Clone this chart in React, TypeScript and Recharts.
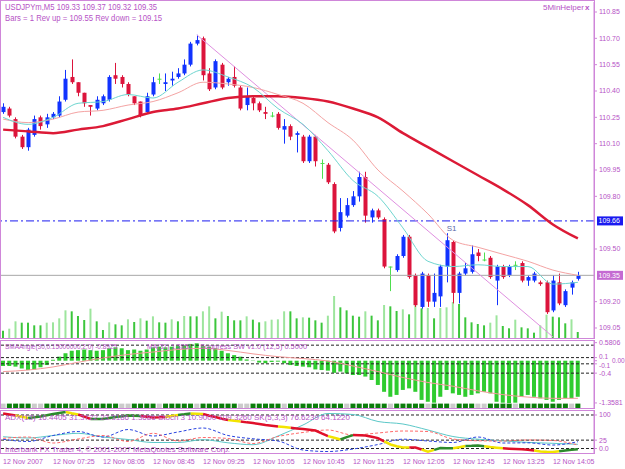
import React from 'react';
import {
  ComposedChart,
  Bar,
  Line,
  Scatter,
  XAxis,
  YAxis,
  ReferenceLine,
  ReferenceDot,
  Cell,
} from 'recharts';

const FONT = '"Liberation Sans", Arial, sans-serif';
const TXT = '#b653c6';
const FRAME = '#cf86d9';
const BULL = '#1133ff';
const BEAR = '#dc143c';
const DOJI = '#4ede4e';
const VOL_UP = '#9de59d';
const VOL_DOWN = '#3cc63c';

// USDJPYm M5, 12 Nov 2007 06:45 .. 14:25 (93 bars)
const OPEN = [
  110.28, 110.30, 110.24, 110.14, 110.08, 110.15, 110.25, 110.21, 110.25, 110.26,
  110.35, 110.48, 110.45, 110.39, 110.32, 110.30, 110.33, 110.35, 110.49, 110.48,
  110.44, 110.37, 110.34, 110.28, 110.38, 110.47, 110.44, 110.46, 110.48, 110.50,
  110.55, 110.67, 110.70, 110.50, 110.42, 110.55, 110.45, 110.48, 110.42, 110.32,
  110.36, 110.33, 110.28, 110.26, 110.27, 110.18, 110.20, 110.15, 110.14, 110.00,
  110.14, 109.99, 109.98, 109.87, 109.62, 109.69, 109.75, 109.80, 109.91, 109.68,
  109.72, 109.67, 109.40, 109.38, 109.46, 109.57, 109.35, 109.17, 109.35, 109.20,
  109.23, 109.40, 109.54, 109.25, 109.36, 109.37, 109.48, 109.44, 109.45, 109.32,
  109.40, 109.35, 109.41, 109.42, 109.32, 109.32, 109.31, 109.31, 109.15, 109.31,
  109.18, 109.28, 109.33,
];
const HIGH = [
  110.33, 110.31, 110.25, 110.15, 110.19, 110.26, 110.26, 110.27, 110.28, 110.37,
  110.52, 110.58, 110.45, 110.39, 110.32, 110.37, 110.38, 110.49, 110.56, 110.49,
  110.45, 110.37, 110.34, 110.39, 110.48, 110.50, 110.50, 110.51, 110.53, 110.58,
  110.68, 110.72, 110.71, 110.53, 110.58, 110.56, 110.48, 110.54, 110.43, 110.42,
  110.37, 110.34, 110.31, 110.28, 110.28, 110.24, 110.21, 110.17, 110.15, 110.15,
  110.15, 110.01, 109.99, 109.88, 109.79, 109.79, 109.83, 109.94, 109.94, 109.73,
  109.73, 109.68, 109.40, 109.47, 109.58, 109.58, 109.36, 109.37, 109.36, 109.36,
  109.41, 109.59, 109.55, 109.37, 109.42, 109.52, 109.50, 109.48, 109.46, 109.41,
  109.41, 109.41, 109.43, 109.43, 109.35, 109.37, 109.32, 109.32, 109.35, 109.36,
  109.27, 109.32, 109.37,
];
const LOW = [
  110.27, 110.25, 110.13, 110.07, 110.06, 110.14, 110.18, 110.19, 110.24, 110.25,
  110.34, 110.44, 110.37, 110.31, 110.26, 110.29, 110.32, 110.34, 110.44, 110.42,
  110.37, 110.32, 110.25, 110.27, 110.37, 110.44, 110.40, 110.43, 110.47, 110.49,
  110.54, 110.66, 110.46, 110.40, 110.41, 110.41, 110.43, 110.42, 110.29, 110.29,
  110.29, 110.28, 110.24, 110.25, 110.18, 110.10, 110.12, 110.05, 109.99, 109.99,
  109.97, 109.90, 109.87, 109.59, 109.60, 109.68, 109.74, 109.77, 109.65, 109.65,
  109.67, 109.39, 109.26, 109.37, 109.45, 109.33, 109.17, 109.16, 109.17, 109.17,
  109.17, 109.31, 109.19, 109.19, 109.35, 109.36, 109.43, 109.43, 109.33, 109.18,
  109.33, 109.34, 109.38, 109.31, 109.29, 109.31, 109.29, 109.13, 109.14, 109.18,
  109.17, 109.24, 109.32,
];
const CLOSE = [
  110.31, 110.26, 110.14, 110.08, 110.18, 110.24, 110.20, 110.25, 110.27, 110.34,
  110.47, 110.45, 110.39, 110.33, 110.31, 110.35, 110.37, 110.48, 110.47, 110.44,
  110.38, 110.33, 110.26, 110.37, 110.45, 110.47, 110.45, 110.47, 110.50, 110.55,
  110.67, 110.69, 110.49, 110.41, 110.57, 110.42, 110.47, 110.43, 110.30, 110.37,
  110.33, 110.29, 110.27, 110.26, 110.19, 110.20, 110.14, 110.16, 110.00, 110.14,
  110.00, 109.99, 109.88, 109.60, 109.71, 109.75, 109.80, 109.91, 109.69, 109.72,
  109.68, 109.40, 109.40, 109.46, 109.57, 109.34, 109.18, 109.36, 109.20, 109.25,
  109.40, 109.55, 109.25, 109.36, 109.39, 109.47, 109.46, 109.44, 109.34, 109.40,
  109.34, 109.40, 109.41, 109.32, 109.34, 109.36, 109.30, 109.14, 109.32, 109.19,
  109.26, 109.31, 109.35,
];
const VOLUME = [
  22, 28, 50, 46, 46, 38, 38, 46, 47, 59, 83, 80, 66, 54, 88, 50, 24, 47, 41, 38,
  56, 48, 59, 52, 65, 47, 46, 56, 50, 66, 65, 65, 80, 95, 59, 79, 66, 53, 53, 65,
  55, 47, 50, 55, 56, 80, 80, 59, 62, 61, 53, 46, 67, 126, 92, 83, 67, 64, 80, 67,
  53, 99, 95, 81, 86, 71, 98, 89, 90, 59, 90, 92, 108, 102, 62, 47, 42, 38, 46, 68,
  36, 29, 55, 32, 29, 16, 38, 70, 64, 62, 44, 56, 18,
];

// moving averages, read at every 4th bar
const MA_FAST = [
  110.25, 110.21, 110.25, 110.33, 110.34, 110.38, 110.36, 110.45, 110.52, 110.48, 110.42, 110.30,
  110.21, 110.06, 109.89, 109.80, 109.62, 109.43, 109.40, 109.41, 109.40, 109.40, 109.30, 109.31,
];
const MA_MID = [
  110.24, 110.22, 110.24, 110.28, 110.29, 110.32, 110.34, 110.39, 110.45, 110.44, 110.42, 110.38,
  110.33, 110.22, 110.12, 109.95, 109.83, 109.70, 109.55, 109.51, 109.47, 109.43, 109.38, 109.35,
];
const MA_SLOW = [
  110.18, 110.17, 110.16, 110.18, 110.20, 110.24, 110.28, 110.30, 110.33, 110.36, 110.37, 110.37,
  110.36, 110.34, 110.30, 110.25, 110.16, 110.08, 110.00, 109.92, 109.84, 109.75, 109.64, 109.56,
];

// 109.65 and 109.35 sit under the price tags
const PRICE_TICKS = [109.05, 109.2, 109.5, 109.8, 109.95, 110.1, 110.25, 110.4, 110.55, 110.7, 110.85];

// SMAAngle window
const HIST = [
  -0.17, -0.17, -0.19, -0.25, -0.30, -0.28, -0.21, -0.14, 0.03, 0.13,
  0.24, 0.32, 0.34, 0.36, 0.34, 0.32, 0.34, 0.40, 0.43, 0.40,
  0.34, 0.36, 0.32, 0.36, 0.43, 0.45, 0.43, 0.45, 0.47, 0.50,
  0.54, 0.56, 0.47, 0.45, 0.40, 0.32, 0.24, 0.18, 0.13, 0.04,
  0.01, -0.06, -0.08, -0.04, -0.03, -0.08, -0.14, -0.17, -0.19, -0.21,
  -0.28, -0.30, -0.32, -0.39, -0.35, -0.41, -0.46, -0.46, -0.51, -0.62,
  -0.78, -1.00, -1.16, -1.10, -0.94, -0.89, -1.00, -1.26, -1.32, -1.35,
  -1.16, -0.94, -1.05, -1.10, -1.16, -1.10, -1.05, -1.00, -1.05, -1.32,
  -1.35, -1.36, -1.35, -1.16, -1.10, -1.16, -1.21, -1.26, -1.32, -1.26,
  -1.21, -1.21, -1.16,
];
const SIGNAL = [
  -0.35, -0.30, -0.20, -0.05, 0.09, 0.20, 0.28, 0.36, 0.40, 0.33, 0.22, 0.13,
  0.07, -0.01, -0.17, -0.35, -0.54, -0.70, -0.82, -0.97, -1.09, -1.17, -1.21, -1.21,
];
const SQUARES =
  'xggggxxggggggxgggggxxggggxgggggxggggggxxgggggxgg' +
  'gggggggxggggggxgggggxgggxgggxxggggxggggggggxg';
const SQUARE_ROW = -1.46;
const OSC_TICKS = [0.5806, 0.1, 0, -0.1, -0.4, -1.3581];
const OSC_LABELS = ['0.5806', '0.1', '0.00', '-0.1', '-0.4', '-1.3581'];
// small nudges so the crowded labels stay readable: [dx, dy]
const OSC_SHIFT = [[0, 0], [0, -1.5], [13, 0], [0, 1.5], [0, 0], [0, 0]];
const OSC_LEVELS = [0.5, 0.1, -0.1, -0.4];

// ADX window
const ADX_MAIN = [
  104.5, 101.5, 98.5, 94.5, 91, 93, 95.5, 99, 103, 106,
  109, 105, 101.5, 95, 88, 88, 88, 91, 94, 96,
  98.5, 98, 97, 95, 92.5, 93, 94, 97, 100, 102,
  104.5, 104, 103, 98, 94, 89, 85, 83, 80.5, 78,
  76, 73, 70, 68, 65.5, 64, 62, 60, 58, 56,
  53.5, 45, 37, 32, 27, 34, 40, 39.5, 39, 35,
  31, 21, 12, 7, 3, 3, 3, -3, -9.5, -4,
  1.5, 1, 0.5, 4, 7.5, 8, 9, 7, 4.5, 2.5,
  0.5, -0.5, -1.5, -2.5, -3.5, -6, -9, -10, -10.5, -8,
  -6, -4, -2.5,
];
const ADX_COL =
  'rrryyggggg' + 'gyyrrggggg' + 'gggrrrryyg' + 'gyyrrrryyr' + 'rrrrryyrrr' +
  'rrryyggrrr' + 'rryyyyrryy' + 'gggyygggyy' + 'yrrrrryyyy' + 'ggg';
const ADX_CYAN = [
  35.2, 31.3, 38.8, 45.4, 34.3, 26.9, 17.9, 17.9, 26.3, 17.0, 11.3, 37.3,
  70.1, 104.5, 101.5, 80.6, 73.1, 55.2, 35.8, 27.8, 22.7, 18.2, 15.5, 12.5,
];
const ADX_BLUE = [
  27.5, 20.9, 38.8, 50.7, 34.3, 56.7, 37.3, 49.3, 61.2, 38.8, 29.0, 22.4,
  -4.5, -9.0, -1.5, 11.9, 27.8, 22.4, 17.9, 34.3, 16.4, 17.0, 10.4, 20.3,
];
const ADX_RED = [
  30.4, 34.3, 16.4, 28.4, 38.8, 20.9, 45.4, 22.4, 32.8, 29.9, 14.9, 35.8,
  47.8, 55.2, 40.3, 46.3, 52.2, 50.7, 28.4, 23.0, 22.4, 25.4, 23.9, 10.4,
];
const ADX_TICKS = [100, 25, 0];
const ADX_LABELS = ['100', '25', '0.0'];

const TIME_LABELS = [
  '12 Nov 2007', '12 Nov 07:25', '12 Nov 08:05', '12 Nov 08:45', '12 Nov 09:25', '12 Nov 10:05',
  '12 Nov 10:45', '12 Nov 11:25', '12 Nov 12:05', '12 Nov 12:45', '12 Nov 13:25', '12 Nov 14:05',
];

const sparse = (arr: number[], i: number) => (i % 4 === 0 ? arr[i / 4] : null);

const mainData = CLOSE.map((close, i) => ({
  i,
  open: OPEN[i],
  high: HIGH[i],
  low: LOW[i],
  close,
  range: [LOW[i], HIGH[i]],
  vol: VOLUME[i],
  fast: sparse(MA_FAST, i),
  mid: sparse(MA_MID, i),
  slow: sparse(MA_SLOW, i),
}));

const oscData = HIST.map((h, i) => ({
  i,
  hist: h,
  signal: sparse(SIGNAL, i),
  sq: SQUARE_ROW,
  sqOn: SQUARES[i] === 'g',
}));

// each colour only where a segment of that colour touches the bar
const adxPart = (c: string, i: number) =>
  ADX_COL[i] === c || ADX_COL[i + 1] === c ? ADX_MAIN[i] : null;

const adxData = ADX_MAIN.map((v, i) => ({
  i,
  r: adxPart('r', i),
  y: adxPart('y', i),
  g: adxPart('g', i),
  cyan: sparse(ADX_CYAN, i),
  blue: sparse(ADX_BLUE, i),
  red: sparse(ADX_RED, i),
}));

const X_PAD = { left: 0, right: 13 };
const W = 625;
const axisTick = { fontSize: 7, fill: TXT, fontFamily: FONT };

const Candle = (props: any) => {
  const { x, y, width, height, payload } = props;
  const { open, close, high, low } = payload;
  const top = Math.min(y, y + height);
  const bot = Math.max(y, y + height);
  const span = high - low;
  const py = (p: number) => (span === 0 ? top : top + ((high - p) / span) * (bot - top));
  const color = close > open ? BULL : close < open ? BEAR : DOJI;
  const cx = Math.round(x + width / 2) + 0.5;
  const yo = py(open);
  const yc = py(close);
  const bTop = Math.min(yo, yc);
  const bH = Math.max(1, Math.abs(yc - yo));
  return (
    <g>
      <line x1={cx} x2={cx} y1={top} y2={bot} stroke={color} strokeWidth={1} />
      <rect x={cx - 2} y={bTop} width={4} height={bH} fill={color} />
    </g>
  );
};

const PriceTag = (props: any) => {
  const { viewBox, text, bg } = props;
  const left = viewBox.x + viewBox.width + 3;
  return (
    <g>
      <rect x={left} y={viewBox.y - 4.5} width={26} height={9} fill={bg} />
      <text x={left + 1.5} y={viewBox.y + 2.5} fontSize={7} fill="#fff" fontFamily={FONT}>
        {text}
      </text>
    </g>
  );
};

const S1Label = (props: any) => {
  const { viewBox } = props;
  return (
    <text x={viewBox.x + 6} y={viewBox.y - 4} fontSize={8} fill="#5a6aa8" fontFamily={FONT} textAnchor="middle">
      S1
    </text>
  );
};

const Square = (props: any) => (
  <rect
    x={props.cx - 2.5}
    y={props.cy - 2.5}
    width={5}
    height={5}
    fill={props.payload.sqOn ? '#0b7d0b' : '#cbcbcb'}
  />
);

const TimeTick = (props: any) => {
  const { x, y, payload } = props;
  return (
    <text x={x} y={y + 9} fontSize={7} fill={TXT} fontFamily={FONT} textAnchor="start">
      {TIME_LABELS[payload.value / 8]}
    </text>
  );
};

const OscTick = (props: any) => {
  const { x, y, payload } = props;
  const k = OSC_TICKS.indexOf(payload.value);
  if (k < 0) return null;
  const [dx, dy] = OSC_SHIFT[k];
  return (
    <text x={x + dx} y={y + dy + 2.5} fontSize={k >= 1 && k <= 3 ? 6.5 : 7} fill={TXT} fontFamily={FONT}>
      {OSC_LABELS[k]}
    </text>
  );
};

const labelFrom = (ticks: number[], labels: string[]) => (v: number) => {
  const k = ticks.indexOf(v);
  return k >= 0 ? labels[k] : String(v);
};

export default function App() {
  return (
    <div
      style={{
        position: 'absolute',
        left: 0,
        top: 0,
        width: W,
        height: 469,
        background: '#ffffff',
        overflow: 'hidden',
        fontFamily: FONT,
      }}
    >
      {/* volumes behind the candles */}
      <div style={{ position: 'absolute', left: 0, top: 0 }}>
        <ComposedChart width={W} height={340} data={mainData} margin={{ top: 2, right: 31, bottom: 2, left: 0 }}>
          <XAxis dataKey="i" type="category" scale="band" hide padding={X_PAD} />
          <YAxis yAxisId="vol" hide domain={[0, 1008]} />
          <Bar yAxisId="vol" dataKey="vol" barSize={2} isAnimationActive={false}>
            {VOLUME.map((v, i) => (
              <Cell key={i} fill={i > 0 && v > VOLUME[i - 1] ? VOL_UP : VOL_DOWN} />
            ))}
          </Bar>
        </ComposedChart>
      </div>

      {/* price window */}
      <div style={{ position: 'absolute', left: 0, top: 0 }}>
        <ComposedChart width={W} height={340} data={mainData} margin={{ top: 2, right: 0, bottom: 2, left: 0 }}>
          <XAxis dataKey="i" type="category" scale="band" hide padding={X_PAD} />
          <YAxis
            orientation="right"
            width={31}
            domain={[108.993, 110.907]}
            ticks={PRICE_TICKS}
            interval={0}
            allowDataOverflow
            tick={axisTick}
            tickSize={3}
            tickMargin={2}
            tickLine={{ stroke: FRAME }}
            axisLine={{ stroke: FRAME }}
            tickFormatter={(v: number) => v.toFixed(2)}
          />
          <ReferenceLine y={109.35} stroke="#a8a8a8" label={<PriceTag text="109.35" bg="#c46ad2" />} />
          <ReferenceLine
            y={109.66}
            stroke="#1a1af0"
            strokeDasharray="8 3 2 3"
            label={<PriceTag text="109.66" bg="#1a1af0" />}
          />
          <Bar dataKey="range" barSize={4} isAnimationActive={false} shape={(p: any) => <Candle {...p} />} />
          <ReferenceLine
            segment={[
              { x: 31, y: 110.72 },
              { x: 88, y: 109.0 },
            ]}
            stroke="#df8fe0"
          />
          <Line dataKey="slow" stroke="#dc1a36" strokeWidth={2.5} dot={false} connectNulls type="monotone" isAnimationActive={false} />
          <Line dataKey="mid" stroke="#f4a3a3" strokeWidth={1} dot={false} connectNulls type="monotone" isAnimationActive={false} />
          <Line dataKey="fast" stroke="#6fd6d0" strokeWidth={1} dot={false} connectNulls type="monotone" isAnimationActive={false} />
          <ReferenceDot x={71} y={109.575} r={1} fill="none" stroke="none" label={<S1Label />} />
        </ComposedChart>
      </div>

      {/* SMAAngle window */}
      <div style={{ position: 'absolute', left: 0, top: 340 }}>
        <ComposedChart width={W} height={69} data={oscData} margin={{ top: 0, right: 0, bottom: 0, left: 0 }}>
          <XAxis dataKey="i" type="category" scale="band" hide padding={X_PAD} />
          <YAxis
            orientation="right"
            width={31}
            domain={[-1.553, 0.666]}
            ticks={OSC_TICKS}
            interval={0}
            allowDataOverflow
            tick={(p: any) => <OscTick {...p} />}
            tickSize={3}
            tickMargin={2}
            tickLine={{ stroke: FRAME }}
            axisLine={{ stroke: FRAME }}
          />
          {OSC_LEVELS.map((l) => (
            <ReferenceLine key={l} y={l} stroke="#222" strokeDasharray="3 2" />
          ))}
          <Bar dataKey="hist" fill="#2fcc2f" barSize={4} isAnimationActive={false} />
          <Line dataKey="signal" stroke="#f29a9a" strokeWidth={1} dot={false} connectNulls type="monotone" isAnimationActive={false} />
          <Scatter dataKey="sq" shape={(p: any) => <Square {...p} />} isAnimationActive={false} />
        </ComposedChart>
      </div>

      {/* ADX window + time axis */}
      <div style={{ position: 'absolute', left: 0, top: 410 }}>
        <ComposedChart width={W} height={59} data={adxData} margin={{ top: 0, right: 0, bottom: 0, left: 0 }}>
          <XAxis
            dataKey="i"
            type="category"
            scale="band"
            padding={X_PAD}
            interval={7}
            height={16}
            tickLine={false}
            axisLine={false}
            tickSize={0}
            tick={(p: any) => <TimeTick {...p} />}
          />
          <YAxis
            orientation="right"
            width={31}
            domain={[-13.4, 114.9]}
            ticks={ADX_TICKS}
            interval={0}
            allowDataOverflow
            tick={axisTick}
            tickSize={3}
            tickMargin={2}
            tickLine={{ stroke: FRAME }}
            axisLine={{ stroke: FRAME }}
            tickFormatter={labelFrom(ADX_TICKS, ADX_LABELS)}
          />
          {ADX_TICKS.map((l) => (
            <ReferenceLine key={l} y={l} stroke="#222" strokeDasharray="3 2" />
          ))}
          <Line dataKey="cyan" stroke="#5cc8c8" strokeWidth={1} dot={false} connectNulls type="monotone" isAnimationActive={false} />
          <Line dataKey="blue" stroke="#2a44e0" strokeWidth={1} strokeDasharray="3 2" dot={false} connectNulls type="monotone" isAnimationActive={false} />
          <Line dataKey="red" stroke="#ff6a6a" strokeWidth={1} strokeDasharray="3 2" dot={false} connectNulls type="monotone" isAnimationActive={false} />
          <Line dataKey="r" stroke="#e0102a" strokeWidth={2.5} dot={false} isAnimationActive={false} />
          <Line dataKey="y" stroke="#f3e400" strokeWidth={2.5} dot={false} isAnimationActive={false} />
          <Line dataKey="g" stroke="#2c8a2c" strokeWidth={2.5} dot={false} isAnimationActive={false} />
        </ComposedChart>
      </div>

      {/* window frames and captions */}
      <svg width={W} height={469} style={{ position: 'absolute', left: 0, top: 0, pointerEvents: 'none' }}>
        <rect x={0.5} y={0.5} width={594} height={338} fill="none" stroke={FRAME} />
        <rect x={0.5} y={340.5} width={594} height={68} fill="none" stroke={FRAME} />
        <rect x={0.5} y={410.5} width={594} height={43} fill="none" stroke={FRAME} />
        <g fontFamily={FONT} fill={TXT}>
          <text x={5} y={10} fontSize={8.5} textLength={152} lengthAdjust="spacingAndGlyphs">
            USDJPYm,M5  109.33 109.37 109.32 109.35
          </text>
          <text x={5} y={21} fontSize={8.5} textLength={157} lengthAdjust="spacingAndGlyphs">
            Bars = 1 Rev up =  109.55 Rev down = 109.15
          </text>
          <text x={543} y={10} fontSize={8}>5MinHelper</text>
          <text x={585} y={10} fontSize={8} fontWeight="bold">x</text>
          <text x={5} y={349} fontSize={7} textLength={112} lengthAdjust="spacingAndGlyphs">
            SMAAngle(30,0.15000000,2,0) -0.8925
          </text>
          <text x={147} y={349} fontSize={7} textLength={45} lengthAdjust="spacingAndGlyphs">
            MA(31) 1.3851
          </text>
          <text x={200} y={349} fontSize={7} textLength={107} lengthAdjust="spacingAndGlyphs">
            Suppress SW v1.0 (12,5) 0.5000
          </text>
          <text x={5} y={420} fontSize={7} textLength={345} lengthAdjust="spacingAndGlyphs">
            ADX(13) 16.4405 31.3722 23.3186  1.3686  Stoch 3 10.9000 109.3260  SK(5,3,3) 76.6239 64.1220
          </text>
          <text x={5} y={451.5} fontSize={7} textLength={225} lengthAdjust="spacingAndGlyphs">
            Interbank FX Trader 4, © 2001-2007 MetaQuotes Software Corp.
          </text>
        </g>
      </svg>
    </div>
  );
}
